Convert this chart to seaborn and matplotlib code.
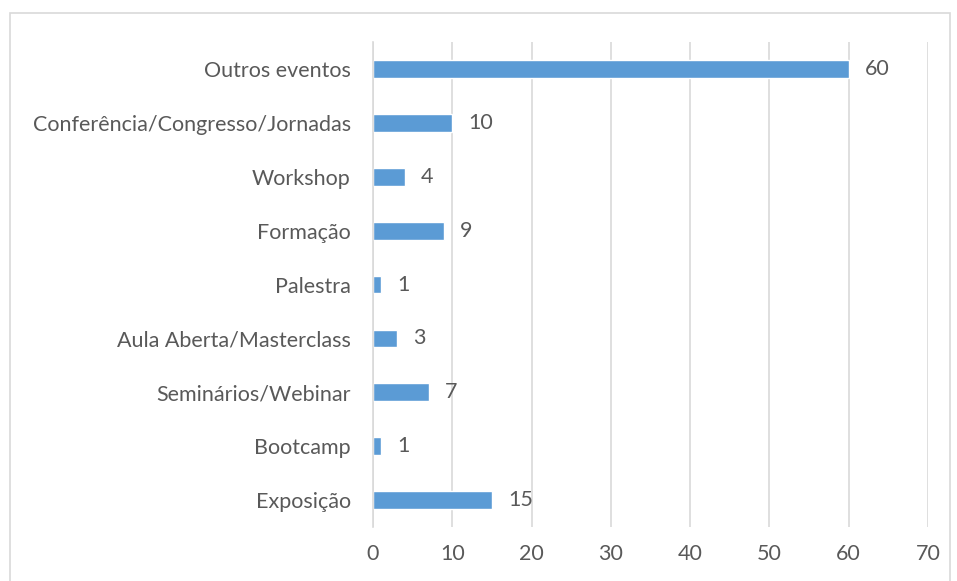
import matplotlib
matplotlib.use('Agg')
import matplotlib.pyplot as plt
import pandas as pd
import seaborn as sns
from matplotlib.patches import Rectangle

# Data (top to bottom)
categories = ['Outros eventos', 'Conferência/Congresso/Jornadas', 'Workshop',
              'Formação', 'Palestra', 'Aula Aberta/Masterclass',
              'Seminários/Webinar', 'Bootcamp', 'Exposição']
counts = [60, 10, 4, 9, 1, 3, 7, 1, 15]
x_ticks = [0, 10, 20, 30, 40, 50, 60, 70]

df = pd.DataFrame({'category': categories, 'count': counts})

sns.set_theme(style='white')
plt.rcParams['font.family'] = ['Lato', 'DejaVu Sans']
text_color = '#595959'

fig = plt.figure(figsize=(9.57, 5.81), dpi=100)
ax = fig.add_axes([0.3898, 0.0929, 0.5799, 0.8348])

sns.barplot(data=df, x='count', y='category', orient='h', color='#5B9BD5',
            width=0.33, saturation=1, ax=ax)

# Value labels
for i, v in enumerate(counts):
    ax.text(v + 2.0, i, str(v), va='center', ha='left', fontsize=15.5,
            color=text_color)

ax.set_xlim(0, 70)
ax.set_ylim(8.5, -0.5)
ax.set_xticks(x_ticks)
ax.xaxis.grid(True, color='#D9D9D9', linewidth=1.2)
ax.set_axisbelow(True)
for side in ['top', 'right', 'bottom']:
    ax.spines[side].set_visible(False)
ax.spines['left'].set_color('#D9D9D9')
ax.spines['left'].set_linewidth(1.2)
ax.set_xlabel('')
ax.set_ylabel('')
ax.tick_params(axis='both', length=0, labelsize=15.5, labelcolor=text_color)
ax.tick_params(axis='y', pad=16)
ax.tick_params(axis='x', pad=12)

# Chart border
fig.patches.append(Rectangle((10 / 957, -0.05), 940 / 957, 1 - 13 / 581 + 0.05,
                             transform=fig.transFigure, fill=False,
                             edgecolor='#D9D9D9', linewidth=1.2))

fig.savefig('out.png', dpi=100)
